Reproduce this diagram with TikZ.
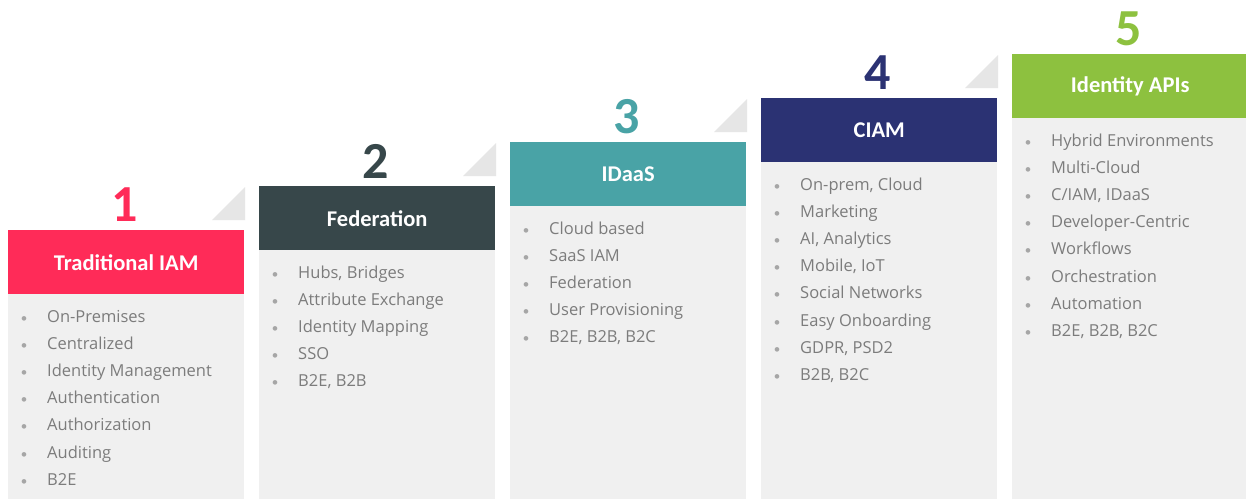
\documentclass[tikz,border=0pt]{standalone}
\usepackage{fontspec}
\setmainfont{Carlito}
\newfontfamily\itemfont{Open Sans}
\definecolor{cred}{HTML}{FF2B58}
\definecolor{cdark}{HTML}{37474A}
\definecolor{cteal}{HTML}{49A3A6}
\definecolor{cnavy}{HTML}{2B3273}
\definecolor{cgreen}{HTML}{8DC13F}
\definecolor{bodygray}{HTML}{F0F0F0}
\definecolor{trigray}{HTML}{E6E6E6}
\definecolor{itemgray}{HTML}{7C7C7C}
\definecolor{dotgray}{HTML}{A6A6A6}
\begin{document}
\begin{tikzpicture}[x=1pt,y=-1pt,
  hdr/.style={minimum width=236pt, minimum height=64pt, inner sep=0pt, anchor=north west,
    font=\bfseries\fontsize{22.5}{22.5}\selectfont, text=white},
  num/.style={font=\bfseries\fontsize{52}{52}\selectfont, inner sep=0pt},
  item/.style={anchor=base west, inner sep=0pt, text=itemgray, font=\itemfont\fontsize{16.5}{16.5}\selectfont},
  dotb/.style={anchor=base, inner sep=0pt, text=dotgray, font=\fontsize{13}{13}\selectfont}]
\fill[white] (0,0) rectangle (1246,499);
\useasboundingbox (0,0) rectangle (1246,499);
\foreach \i/\col/\title/\items in {
  0/cred/Traditional IAM/{On-Premises,Centralized,Identity Management,Authentication,Authorization,Auditing,B2E},
  1/cdark/Federation/{{Hubs, Bridges},Attribute Exchange,Identity Mapping,SSO,{B2E, B2B}},
  2/cteal/IDaaS/{Cloud based,SaaS IAM,Federation,User Provisioning,{B2E, B2B, B2C}},
  3/cnavy/CIAM/{{On-prem, Cloud},Marketing,{AI, Analytics},{Mobile, IoT},Social Networks,Easy Onboarding,{GDPR, PSD2},{B2B, B2C}},
  4/cgreen/Identity APIs/{Hybrid Environments,Multi-Cloud,{C/IAM, IDaaS},Developer-Centric,Workflows,Orchestration,Automation,{B2E, B2B, B2C}}} {
  \pgfmathsetmacro{\L}{8+251*\i}
  \pgfmathsetmacro{\T}{230-44*\i}
  \fill[bodygray] (\L,\T+64) rectangle (\L+236,499);
  \ifnum\i<4
    \fill[trigray] (\L+204,\T-10) -- (\L+237,\T-10) -- (\L+237,\T-43) -- cycle;
  \fi
  \node[hdr, fill=\col] (h\i) at (\L,\T) {\title};
  \node[num, text=\col] (n\i) at (\L+117,\T-25) {\the\numexpr\i+1\relax};
  \foreach \it [count=\k] in \items {
    \node[dotb] (d\i-\k) at (\L+16,\T+92+27.2*\k-27.2) {•};
    \node[item] (t\i-\k) at (\L+39,\T+92+27.2*\k-27.2) {\it};
  }
}
\end{tikzpicture}
\end{document}
